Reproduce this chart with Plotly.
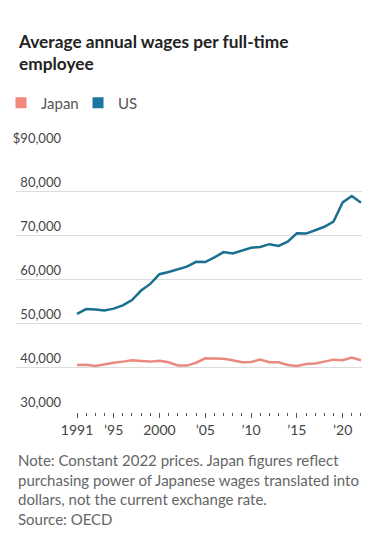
import plotly.graph_objects as go

years = list(range(1991, 2023))
us_wages = [52200, 53300, 53200, 53000, 53400, 54150, 55350, 57500, 59000, 61200,
            61700, 62300, 62900, 64000, 63950, 65000, 66200, 65900, 66600, 67200,
            67350, 68000, 67600, 68550, 70450, 70400, 71150, 71950, 73100, 77450,
            78900, 77400]
japan_wages = [40650, 40700, 40400, 40800, 41150, 41400, 41700, 41550, 41400, 41600,
               41250, 40550, 40500, 41150, 42150, 42100, 42050, 41700, 41250, 41300,
               41850, 41250, 41250, 40650, 40400, 40850, 41000, 41400, 41850, 41700,
               42300, 41700]

y_ticks = [30000, 40000, 50000, 60000, 70000, 80000, 90000]
y_ticktext = ["30,000", "40,000", "50,000", "60,000", "70,000", "80,000", "$90,000"]
x_ticks = [1991, 1995, 2000, 2005, 2010, 2015, 2020]
x_ticktext = ["1991", "\u201995", "2000", "\u201905", "\u201910", "\u201915", "\u201920"]

title_text = "Average annual wages per full-time<br>employee"
note_text = ("Note: Constant 2022 prices. Japan figures reflect<br>"
             "purchasing power of Japanese wages translated into<br>"
             "dollars, not the current exchange rate.<br>"
             "Source: OECD")

japan_color = "#ea8a7e"
us_color = "#1b6f91"
font_family = "Lato"

fig = go.Figure()
fig.add_trace(go.Scatter(x=years, y=japan_wages, mode="lines", name="Japan",
                         line=dict(color=japan_color, width=2.5), showlegend=False))
fig.add_trace(go.Scatter(x=years, y=us_wages, mode="lines", name="US",
                         line=dict(color=us_color, width=2.5), showlegend=False))
# legend swatches
fig.add_trace(go.Scatter(x=[None], y=[None], mode="markers", name="Japan",
                         marker=dict(symbol="square", size=11, color="#f08a7c")))
fig.add_trace(go.Scatter(x=[None], y=[None], mode="markers", name="US",
                         marker=dict(symbol="square", size=11, color="#1a77a3")))

fig.update_layout(
    template="none",
    width=388, height=544,
    margin=dict(l=16, r=26, t=147, b=132, autoexpand=False),
    paper_bgcolor="white", plot_bgcolor="white",
    font=dict(family=font_family, color="#444"),
    showlegend=True,
    hovermode=False,
    legend=dict(orientation="h", x=-0.0433, y=1.166, xanchor="left", yanchor="middle",
                font=dict(size=15, color="#555", family=font_family),
                bgcolor="rgba(0,0,0,0)", itemclick=False, itemwidth=30,
                entrywidth=32, entrywidthmode="pixels"),
    xaxis=dict(range=[1984.34, 2022.11], tickmode="array", tickvals=x_ticks,
               ticktext=x_ticktext, ticks="outside", ticklen=5, tickwidth=1,
               tickcolor="#555", showgrid=False, zeroline=False, showline=False,
               automargin=False,
               tickfont=dict(size=14, color="#444", family=font_family),
               minor=dict(tickmode="array", tickvals=years, ticklen=3, tickwidth=1,
                          tickcolor="#555", ticks="outside", showgrid=False)),
    yaxis=dict(range=[29990, 90010], tickmode="array", tickvals=y_ticks,
               ticktext=y_ticktext, ticks="", showgrid=True, gridcolor="#dcdcdc",
               gridwidth=1, zeroline=False, showline=False, automargin=False,
               ticklabelposition="outside top", ticklabelstandoff=-46,
               tickfont=dict(size=13, color="#444", family=font_family)),
    annotations=[
        dict(text=title_text, xref="paper", yref="paper", x=0, y=1.3566,
             xanchor="left", yanchor="middle", align="left", showarrow=False,
             font=dict(size=17.3, color="#222", family=font_family, weight="bold")),
        dict(text=note_text, xref="paper", yref="paper", x=0, y=-0.1396,
             xanchor="left", yanchor="top", align="left", showarrow=False,
             font=dict(size=15, color="#666", family=font_family)),
    ],
)

fig.write_html("out.html",
               config={"displayModeBar": False},
               post_script="document.body.style.margin='0';"
                           "document.body.style.overflow='hidden';")
